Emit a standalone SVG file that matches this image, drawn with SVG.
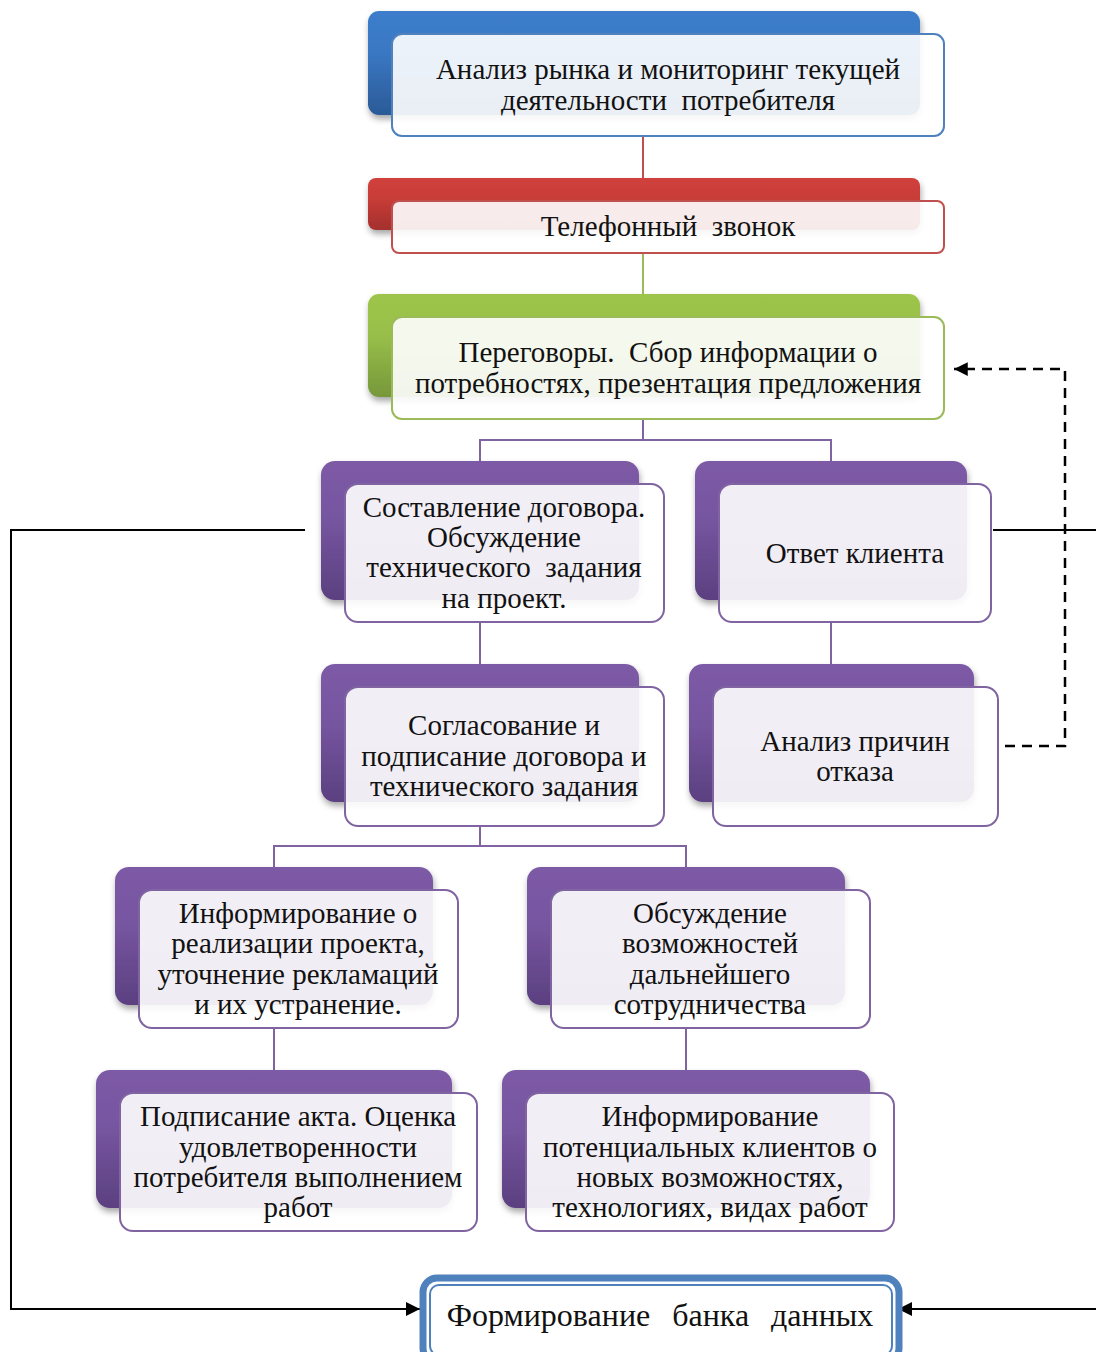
<svg xmlns="http://www.w3.org/2000/svg" width="1096" height="1352" viewBox="0 0 1096 1352">
<defs>
<linearGradient id="gB" x1="0" y1="0" x2="0" y2="1"><stop offset="0" stop-color="#3c7dcb"/><stop offset="0.4" stop-color="#3a78c3"/><stop offset="1" stop-color="#2b5a97"/></linearGradient>
<linearGradient id="gR" x1="0" y1="0" x2="0" y2="1"><stop offset="0" stop-color="#d0403c"/><stop offset="0.4" stop-color="#c83c38"/><stop offset="1" stop-color="#a3302d"/></linearGradient>
<linearGradient id="gG" x1="0" y1="0" x2="0" y2="1"><stop offset="0" stop-color="#9dc54b"/><stop offset="0.4" stop-color="#98bf49"/><stop offset="1" stop-color="#77973a"/></linearGradient>
<linearGradient id="gP" x1="0" y1="0" x2="0" y2="1"><stop offset="0" stop-color="#7c5aa6"/><stop offset="0.4" stop-color="#7756a1"/><stop offset="1" stop-color="#5b4080"/></linearGradient>
<filter id="sh" x="-10%" y="-10%" width="120%" height="130%"><feDropShadow dx="1" dy="4" stdDeviation="3" flood-color="#000" flood-opacity="0.35"/></filter>
<marker id="ah" viewBox="0 0 10 10" refX="10" refY="5" markerWidth="7" markerHeight="7" orient="auto" markerUnits="strokeWidth"><path d="M0,0 L10,5 L0,10 z" fill="#000"/></marker>
<marker id="ahd" viewBox="0 0 10 10" refX="10" refY="5" markerWidth="5.5" markerHeight="5.5" orient="auto" markerUnits="strokeWidth"><path d="M0,0 L10,5 L0,10 z" fill="#000"/></marker>
</defs>
<style>
.t{font-family:"Liberation Serif","Times New Roman",serif;font-size:29px;fill:#111;text-anchor:middle;white-space:pre}
.f{fill:#fff;fill-opacity:0.9;stroke-width:2}
.fB{stroke:#4f81bd}.fR{stroke:#c0504d}.fG{stroke:#9bbb59}.fP{stroke:#8064a2}
.back{filter:url(#sh)}
.c{fill:none;stroke-width:2}
</style>
<g id="connectors">
<line class="c" x1="643" y1="136" x2="643" y2="178" stroke="#c0504d"/>
<line class="c" x1="643" y1="253" x2="643" y2="294" stroke="#9bbb59"/>
<path class="c" d="M643,419 V440 M480,461 V440 H831 V461" stroke="#8064a2"/>
<line class="c" x1="480" y1="622" x2="480" y2="664" stroke="#8064a2"/>
<line class="c" x1="831" y1="622" x2="831" y2="664" stroke="#8064a2"/>
<path class="c" d="M480,826 V846 M274,867 V846 H686 V867" stroke="#8064a2"/>
<line class="c" x1="274" y1="1028" x2="274" y2="1070" stroke="#8064a2"/>
<line class="c" x1="686" y1="1028" x2="686" y2="1070" stroke="#8064a2"/>
<path class="c" d="M305,530 H11 V1309 H420" stroke="#000" marker-end="url(#ah)"/>
<line class="c" x1="993" y1="530" x2="1096" y2="530" stroke="#000"/>
<line class="c" x1="1096" y1="1309" x2="898" y2="1309" stroke="#000" marker-end="url(#ah)"/>
<path d="M1005,746 H1065 V369 H954" fill="none" stroke="#000" stroke-width="2.5" stroke-dasharray="10,7" marker-end="url(#ahd)"/>
</g>
<g id="n1">
<rect class="back" x="368" y="11" width="552" height="104" rx="11" fill="url(#gB)"/>
<rect class="f fB" x="392" y="34" width="552" height="102" rx="10"/>
<text class="t" x="668" y="79">Анализ рынка и мониторинг текущей</text>
<text class="t" x="668" y="110">деятельности  потребителя</text>
</g>
<g id="n2">
<rect class="back" x="368" y="178" width="552" height="52" rx="8" fill="url(#gR)"/>
<rect class="f fR" x="392" y="201" width="552" height="52" rx="7"/>
<text class="t" x="668" y="236">Телефонный  звонок</text>
</g>
<g id="n3">
<rect class="back" x="368" y="294" width="552" height="103" rx="11" fill="url(#gG)"/>
<rect class="f fG" x="392" y="317" width="552" height="102" rx="10"/>
<text class="t" x="668" y="362">Переговоры.  Сбор информации о</text>
<text class="t" x="668" y="393">потребностях, презентация предложения</text>
</g>
<g id="n4">
<rect class="back" x="321" y="461" width="318" height="139" rx="14" fill="url(#gP)"/>
<rect class="f fP" x="345" y="484" width="319" height="138" rx="13"/>
<text class="t" x="504" y="517">Составление договора.</text>
<text class="t" x="504" y="547">Обсуждение</text>
<text class="t" x="504" y="577">технического  задания</text>
<text class="t" x="504" y="608">на проект.</text>
</g>
<g id="n5">
<rect class="back" x="695" y="461" width="272" height="139" rx="14" fill="url(#gP)"/>
<rect class="f fP" x="719" y="484" width="272" height="138" rx="13"/>
<text class="t" x="855" y="563">Ответ клиента</text>
</g>
<g id="n6">
<rect class="back" x="321" y="664" width="318" height="138" rx="14" fill="url(#gP)"/>
<rect class="f fP" x="345" y="687" width="319" height="139" rx="13"/>
<text class="t" x="504" y="735">Согласование и</text>
<text class="t" x="504" y="766">подписание договора и</text>
<text class="t" x="504" y="796">технического задания</text>
</g>
<g id="n7">
<rect class="back" x="689" y="664" width="285" height="138" rx="14" fill="url(#gP)"/>
<rect class="f fP" x="713" y="687" width="285" height="139" rx="13"/>
<text class="t" x="855" y="751">Анализ причин</text>
<text class="t" x="855" y="781">отказа</text>
</g>
<g id="n8">
<rect class="back" x="115" y="867" width="318" height="138" rx="14" fill="url(#gP)"/>
<rect class="f fP" x="139" y="890" width="319" height="138" rx="13"/>
<text class="t" x="298" y="923">Информирование о</text>
<text class="t" x="298" y="953">реализации проекта,</text>
<text class="t" x="298" y="984">уточнение рекламаций</text>
<text class="t" x="298" y="1014">и их устранение.</text>
</g>
<g id="n9">
<rect class="back" x="527" y="867" width="318" height="138" rx="14" fill="url(#gP)"/>
<rect class="f fP" x="551" y="890" width="319" height="138" rx="13"/>
<text class="t" x="710" y="923">Обсуждение</text>
<text class="t" x="710" y="953">возможностей</text>
<text class="t" x="710" y="984">дальнейшего</text>
<text class="t" x="710" y="1014">сотрудничества</text>
</g>
<g id="n10">
<rect class="back" x="96" y="1070" width="356" height="138" rx="14" fill="url(#gP)"/>
<rect class="f fP" x="120" y="1093" width="357" height="138" rx="13"/>
<text class="t" x="298" y="1126">Подписание акта. Оценка</text>
<text class="t" x="298" y="1157">удовлетворенности</text>
<text class="t" x="298" y="1187">потребителя выполнением</text>
<text class="t" x="298" y="1217">работ</text>
</g>
<g id="n11">
<rect class="back" x="502" y="1070" width="368" height="138" rx="14" fill="url(#gP)"/>
<rect class="f fP" x="526" y="1093" width="368" height="138" rx="13"/>
<text class="t" x="710" y="1126">Информирование</text>
<text class="t" x="710" y="1157">потенциальных клиентов о</text>
<text class="t" x="710" y="1187">новых возможностях,</text>
<text class="t" x="710" y="1217">технологиях, видах работ</text>
</g>
<g id="n12">
<rect x="423" y="1278" width="476" height="84" rx="14" fill="#fff" stroke="#4f81bd" stroke-width="7"/>
<rect x="430" y="1285" width="462" height="70" rx="9" fill="none" stroke="#4f81bd" stroke-width="2"/>
<text class="t" x="660" y="1326" style="font-size:32px;word-spacing:3px">Формирование  банка  данных</text>
</g>
</svg>
